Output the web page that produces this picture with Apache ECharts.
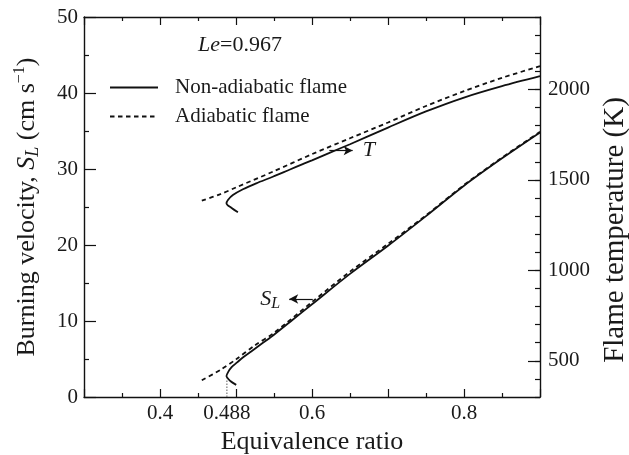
<!DOCTYPE html>
<html>
<head>
<meta charset="utf-8">
<script src="https://cdn.jsdelivr.net/npm/echarts@6/dist/echarts.min.js"></script>
<style>
  html, body { margin: 0; padding: 0; background: #fff; }
  #chart { width: 629px; height: 455px; }
</style>
</head>
<body>
<div id="chart"></div>
<script>
// ---- data ----
const xTickLabels = [0.4, 0.488, 0.6, 0.8];
const tTickLabels = [500, 1000, 1500, 2000];

// burning velocity S_L (cm/s) vs equivalence ratio
const slNonAdiabatic = [
  [0.5003, 1.6], [0.4925, 2.1], [0.4875, 2.75], [0.4898, 3.3], [0.4945, 3.95],
  [0.5015, 4.55], [0.509, 5.2], [0.52, 6.0], [0.535, 7.1], [0.55, 8.2],
  [0.575, 10.2], [0.6, 12.2], [0.65, 16.2], [0.7, 19.9], [0.75, 23.8],
  [0.8, 27.8], [0.85, 31.4], [0.9, 34.8]
];
const slAdiabatic = [
  [0.455, 2.2], [0.48, 3.6], [0.5, 4.95], [0.525, 6.8], [0.55, 8.45],
  [0.6, 12.5], [0.65, 16.5], [0.7, 20.15], [0.75, 23.9], [0.8, 27.9],
  [0.85, 31.5], [0.9, 34.9]
];
// flame temperature (K) vs equivalence ratio
const tNonAdiabatic = [
  [0.5025, 1321], [0.4938, 1346], [0.4875, 1370], [0.4894, 1389], [0.4959, 1416],
  [0.5091, 1448], [0.5266, 1481], [0.5484, 1517], [0.5703, 1556], [0.5878, 1587],
  [0.6, 1608], [0.62, 1644], [0.65, 1697], [0.7, 1789], [0.75, 1878],
  [0.8, 1955], [0.85, 2018], [0.9, 2073]
];
const tAdiabatic = [
  [0.455, 1385], [0.48, 1422], [0.5, 1458], [0.55, 1548], [0.6, 1642],
  [0.65, 1730], [0.7, 1817], [0.75, 1908], [0.8, 1990], [0.85, 2064],
  [0.9, 2128]
];
// limit marker at the turning point
const limitLine = [[0.488, 0], [0.488, 2.4]];
// arrows: [from, to]
const tArrow = [[0.6228, 1662], [0.6535, 1662]];
const slArrow = [[0.601, 12.9], [0.570, 12.9]];

const FONT = "'Liberation Serif', 'Times New Roman', serif";
const INK = '#111';
const TXT = '#1a1a1a';

const chart = echarts.init(document.getElementById('chart'), null, { renderer: 'canvas' });

const axisLine = { show: true, lineStyle: { color: INK, width: 1.4 } };

function xAxisCfg(pos, labels) {
  return {
    type: 'value', position: pos, min: 0.3, max: 0.9, interval: 0.1,
    axisLine: axisLine,
    axisTick: { show: true, inside: true, length: 8, lineStyle: { color: INK, width: 1.2 } },
    minorTick: { show: true, splitNumber: 2, length: 4, lineStyle: { color: INK, width: 1.2 } },
    splitLine: { show: false },
    axisLabel: labels ? {
      show: true, customValues: xTickLabels, margin: 6,
      formatter: v => String(+(+v).toFixed(3)),
      fontFamily: FONT, fontSize: 21, color: TXT
    } : { show: false },
    name: labels ? 'Equivalence ratio' : '',
    nameLocation: 'middle', nameGap: 32,
    nameTextStyle: { fontFamily: FONT, fontSize: 26, color: TXT }
  };
}

const option = {
  backgroundColor: '#fff',
  animation: false,
  grid: { left: 84, right: 89, top: 17, bottom: 58, containLabel: false, outerBoundsMode: 'none' },
  title: {
    text: '{i|Le}{n|=0.967}',
    left: 198, top: 34, padding: 0,
    textStyle: {
      fontWeight: 'normal',
      rich: {
        i: { fontFamily: FONT, fontSize: 22, fontStyle: 'italic', fontWeight: 'normal', color: TXT },
        n: { fontFamily: FONT, fontSize: 22, fontWeight: 'normal', color: TXT }
      }
    }
  },
  legend: {
    data: ['Non-adiabatic flame', 'Adiabatic flame'],
    orient: 'vertical', left: 109, top: 77, padding: 0,
    itemWidth: 48, itemHeight: 14, itemGap: 8,
    selectedMode: false,
    itemStyle: { opacity: 0 },
    textStyle: { fontFamily: FONT, fontSize: 21, color: TXT, padding: [0, 0, 0, 12] }
  },
  xAxis: [xAxisCfg('bottom', true), xAxisCfg('top', false)],
  yAxis: [
    {
      type: 'value', position: 'left', min: 0, max: 50, interval: 10,
      axisLine: axisLine,
      axisTick: { show: true, inside: true, length: 12, lineStyle: { color: INK, width: 1.2 } },
      minorTick: { show: true, splitNumber: 2, length: 5, lineStyle: { color: INK, width: 1.2 } },
      splitLine: { show: false },
      axisLabel: { margin: 6, fontFamily: FONT, fontSize: 21, color: TXT },
      name: '{a|Burning velocity, }{i|S}{sub|L}{a| (cm s}{sup|\u22121}{a|)}',
      nameLocation: 'middle', nameRotate: 90, nameGap: 42,
      nameTextStyle: {
        rich: {
          a: { fontFamily: FONT, fontSize: 26, color: TXT, lineHeight: 30 },
          i: { fontFamily: FONT, fontSize: 26, fontStyle: 'italic', color: TXT, lineHeight: 30 },
          sub: { fontFamily: FONT, fontSize: 18, fontStyle: 'italic', color: TXT, lineHeight: 20, verticalAlign: 'bottom' },
          sup: { fontFamily: FONT, fontSize: 16, color: TXT, lineHeight: 16, verticalAlign: 'top' }
        }
      }
    },
    {
      type: 'value', position: 'right', min: 300, max: 2400, interval: 100,
      axisLine: axisLine,
      axisTick: { show: true, inside: true, length: 12, customValues: tTickLabels, lineStyle: { color: INK, width: 1.2 } },
      splitLine: { show: false },
      axisLabel: { customValues: tTickLabels, margin: 8, formatter: v => String(v), fontFamily: FONT, fontSize: 21, color: TXT },
      name: 'Flame temperature (K)',
      nameLocation: 'middle', nameRotate: 90, nameGap: 47,
      nameTextStyle: { fontFamily: FONT, fontSize: 29, color: TXT, padding: [0, 46, 0, 0] }
    },
    {
      type: 'value', position: 'right', min: 300, max: 2400, interval: 100,
      axisLine: { show: false },
      axisTick: { show: true, inside: true, length: 5, lineStyle: { color: INK, width: 1.2 } },
      splitLine: { show: false },
      axisLabel: { show: false }
    }
  ],
  series: [
    {
      name: 'Non-adiabatic flame', type: 'line', xAxisIndex: 0, yAxisIndex: 0,
      data: slNonAdiabatic, symbol: 'none', smooth: 0.3,
      lineStyle: { color: INK, width: 1.8 }, itemStyle: { color: INK },
      markLine: {
        silent: true, symbol: ['none', 'arrow'], symbolSize: [7, 9],
        lineStyle: { color: INK, width: 1.2, type: 'solid' },
        label: {
          show: true, position: 'end', distance: 9,
          formatter: '{s|S}{l|L}',
          rich: {
            s: { fontFamily: FONT, fontSize: 22, fontStyle: 'italic', color: TXT, lineHeight: 26 },
            l: { fontFamily: FONT, fontSize: 16, fontStyle: 'italic', color: TXT, lineHeight: 16, verticalAlign: 'bottom' }
          }
        },
        data: [[{ coord: slArrow[0] }, { coord: slArrow[1] }]]
      }
    },
    {
      name: 'Adiabatic flame', type: 'line', xAxisIndex: 0, yAxisIndex: 0,
      data: slAdiabatic, symbol: 'none', smooth: 0.3,
      lineStyle: { color: INK, width: 1.8, type: [4.5, 3.5] }, itemStyle: { color: INK }
    },
    {
      name: 'Non-adiabatic flame', type: 'line', xAxisIndex: 0, yAxisIndex: 1,
      data: tNonAdiabatic, symbol: 'none', smooth: 0.3,
      lineStyle: { color: INK, width: 1.8 }, itemStyle: { color: INK },
      markLine: {
        silent: true, symbol: ['none', 'arrow'], symbolSize: [7, 9],
        lineStyle: { color: INK, width: 1.2, type: 'solid' },
        label: {
          show: true, position: 'end', distance: 10,
          formatter: 'T', fontFamily: FONT, fontSize: 22, fontStyle: 'italic', color: TXT
        },
        data: [[{ coord: tArrow[0] }, { coord: tArrow[1] }]]
      }
    },
    {
      name: 'Adiabatic flame', type: 'line', xAxisIndex: 0, yAxisIndex: 1,
      data: tAdiabatic, symbol: 'none', smooth: 0.3,
      lineStyle: { color: INK, width: 1.8, type: [4.5, 3.5] }, itemStyle: { color: INK }
    },
    {
      name: 'limit', type: 'line', xAxisIndex: 0, yAxisIndex: 0,
      data: limitLine, symbol: 'none',
      lineStyle: { color: '#777', width: 1.2, type: [1.5, 1.5] }
    }
  ]
};

chart.setOption(option);
</script>
</body>
</html>
